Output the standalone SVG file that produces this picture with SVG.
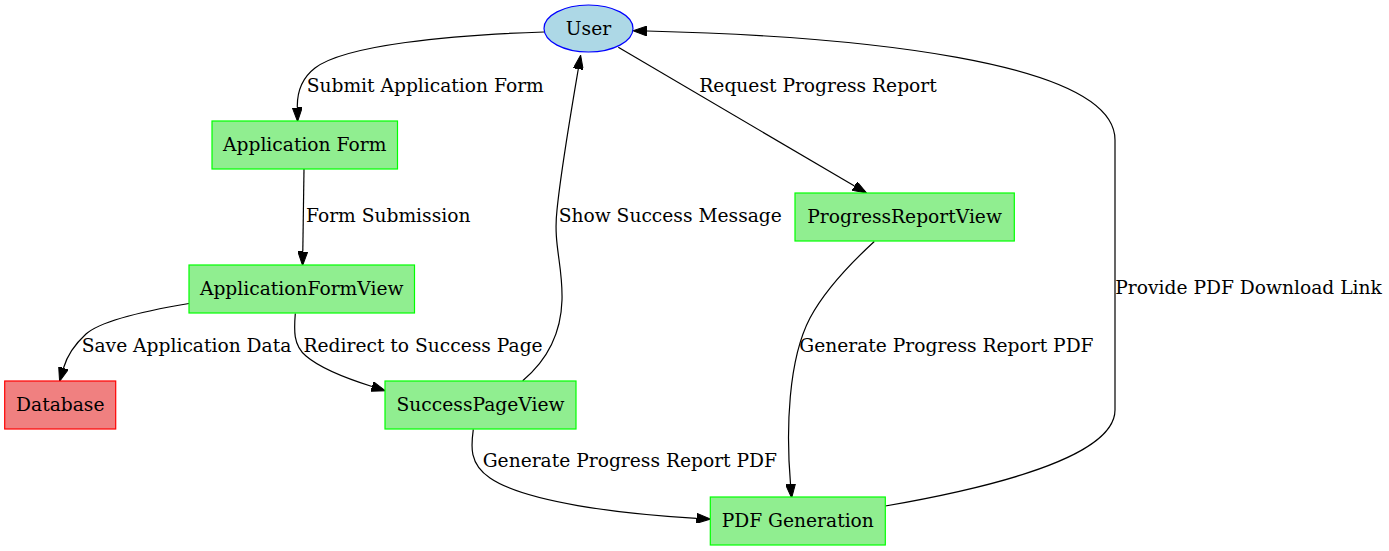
<svg xmlns="http://www.w3.org/2000/svg" width="1389" height="551" viewBox="0 0 1389 551">
<style>
text{font-family:"DejaVu Serif","Liberation Serif",serif;font-size:18.67px;fill:#000}
.n{text-anchor:middle}
.g{fill:#90ee90;stroke:#00ff00;stroke-width:1.2}
.e{fill:none;stroke:#000;stroke-width:1.2;marker-end:url(#ah)}
</style>
<defs>
<marker id="ah" markerUnits="userSpaceOnUse" markerWidth="14" markerHeight="10" viewBox="0 0 14 10" refX="0" refY="5" orient="auto">
<path d="M0,0 L14,5 L0,10 z" fill="#000" stroke="#000" stroke-width="1"/>
</marker>
</defs>
<rect width="1389" height="551" fill="#fff"/>
<g id="connectors">
<path class="e" d="M544,32 C450,35 345,45 315,68 C302,78 297,92 297.3,107.5"/>
<path class="e" d="M304,169 L302.8,251.5"/>
<path class="e" d="M189,303.5 C150,310 102,320 86,334 C74,345 67,356 63.5,368"/>
<path class="e" d="M295.3,313.5 C294,330 293,345 306,356 C320,368 345,378 372,386.5"/>
<path class="e" d="M522.7,380.7 C545,362 561,335 562,300 C563,265 553,245 557,210 C561,170 571,112 578.3,69"/>
<path class="e" d="M618.3,47.3 L854.5,186"/>
<path class="e" d="M874.3,241.5 C852,262 826,288 810,318 C788,360 786,430 790.5,484"/>
<path class="e" d="M473.3,429.3 C471,446 469,464 490,478 C525,502 620,514 696.5,518.3"/>
<path class="e" d="M885.3,506 C960,493 1115,462 1115,410 L1115,140 C1115,60 850,36 647,31"/>
</g>
<g id="edge-labels">
<text x="306.7" y="92">Submit Application Form</text>
<text x="306" y="222">Form Submission</text>
<text x="81.7" y="351.5">Save Application Data</text>
<text x="303.5" y="351.5">Redirect to Success Page</text>
<text x="558.7" y="222">Show Success Message</text>
<text x="699.3" y="92">Request Progress Report</text>
<text x="799.3" y="352">Generate Progress Report PDF</text>
<text x="482.7" y="467">Generate Progress Report PDF</text>
<text x="1115.3" y="293.5">Provide PDF Download Link</text>
</g>
<g id="node-user">
<ellipse cx="588.5" cy="28.5" rx="44.5" ry="23.5" fill="#add8e6" stroke="#0000ff" stroke-width="1.2"/>
<text class="n" x="588.5" y="34.5">User</text>
</g>
<g id="node-application-form">
<rect class="g" x="212" y="121" width="185.5" height="48"/>
<text class="n" x="304.7" y="151">Application Form</text>
</g>
<g id="node-application-form-view">
<rect class="g" x="189" y="265" width="225.5" height="48"/>
<text class="n" x="301.7" y="295">ApplicationFormView</text>
</g>
<g id="node-database">
<rect x="4.7" y="381" width="111" height="48" fill="#f08080" stroke="#ff0000" stroke-width="1.2"/>
<text class="n" x="60.3" y="411">Database</text>
</g>
<g id="node-success-page-view">
<rect class="g" x="385" y="381" width="191" height="48"/>
<text class="n" x="480.5" y="411">SuccessPageView</text>
</g>
<g id="node-progress-report-view">
<rect class="g" x="795" y="193" width="219.3" height="48"/>
<text class="n" x="904.6" y="223">ProgressReportView</text>
</g>
<g id="node-pdf-generation">
<rect class="g" x="710.3" y="497" width="175" height="48"/>
<text class="n" x="797.8" y="527">PDF Generation</text>
</g>
</svg>
